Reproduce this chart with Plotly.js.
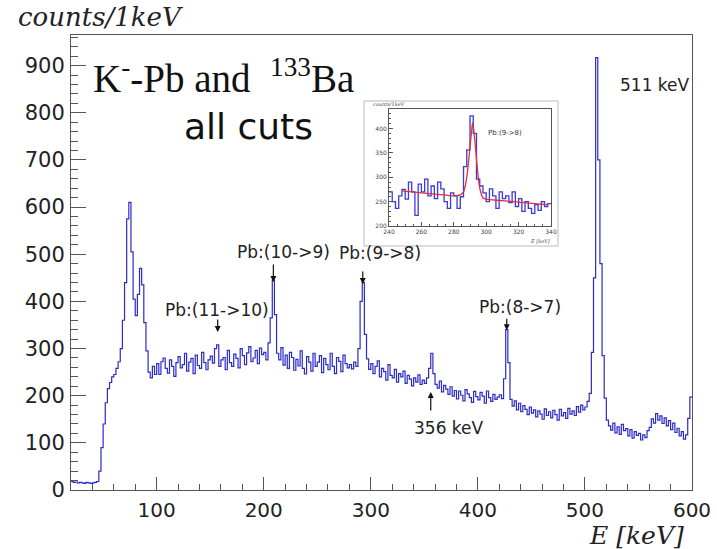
<!DOCTYPE html>
<html>
<head>
<meta charset="utf-8">
<script src="https://cdn.plot.ly/plotly-3.0.1.min.js"></script>
<style>html,body{margin:0;padding:0;background:#fff;}#chart{width:717px;height:549px;}</style>
</head>
<body>
<div id="chart"></div>
<script>
// ---- Main spectrum: 2 keV bins starting at 20 keV ----
const binStart = 20;
const binWidth = 2;
const counts = [
  18,16,17,15,16, 15,14,16,15,14, 15,16,18,40,90,
  140,185,215,228,240, 245,258,272,300,360, 440,575,610,505,405, 370,415,470,435,355, 295,250,238,262,245,
  268,245,272,280,258, 248,276,262,241,270, 283,259,266,290,252, 271,279,247,286,264, 258,292,270,255,276,
  284,269,300,308,262, 276,281,255,296,270, 262,288,279,259,300, 285,266,291,304,272, 280,296,268,301,287,
  292,276,312,365,445, 372,290,276,302,265, 286,258,292,281,254, 277,263,295,258,246, 283,271,252,290,262,
  271,285,249,279,266, 255,290,262,247,281, 273,251,286,268,259,
  266,257,271,262,300, 400,440,330,278,256,
  268,247,262,274,240, 258,251,233,266,243, 238,256,229,247,240, 252,226,243,235,221, 238,229,244,224,233,
  226,238,258,290,247, 224,216,231,208,222, 214,203,219,199,211, 193,210,201,189,213, 204,196,186,209,198,
  191,207,199,184,210, 196,188,203,192,197, 202,194,236,340,270, 192,178,189,170,184, 166,179,171,160,176,
  163,170,155,168,161, 150,172,158,166,153, 169,160,148,171,157, 164,152,173,161,168, 158,177,165,180,170,
  176,188,205,292,450, 917,700,480,285,195, 148,136,127,142,121, 134,118,139,126,130, 115,128,110,124,116,
  120,106,117,111,126, 133,151,142,162,148, 157,141,153,136,147, 128,142,122,131,115, 124,108,117,152,197
];

// ---- Inset: 2 keV bins from 240 keV, with fit curve ----
const insetStart = 240;
const insetWidth = 2;
const insetCounts = [
  270,250,236,262,275, 255,290,270,222,286,
  270,296,262,282,256, 290,276,250,236,268,
  262,236,260,322,356, 426,390,296,282,268,
  250,276,262,236,270, 256,262,248,270,240,
  256,230,250,236,226, 244,232,250,240,246
];
const fitX = [248,260,270,280,284,286,287,288,289,290,291,291.6,292,293,294,295,296,297,298,300,310,320,330,338];
const fitY = [272,268,265,262,264,270,281,300,328,362,395,412,405,375,338,303,278,265,258,255,252,249,246,244];

// ---- Tick labels ----
const xTicks = [100,200,300,400,500,600];
const yTicks = [0,100,200,300,400,500,600,700,800,900];
const insetXTicks = [240,260,280,300,320,340];
const insetYTicks = [200,250,300,350,400];

function stepXY(start, width, vals){
  const x=[], y=[];
  for(let i=0;i<vals.length;i++){ x.push(start+i*width); y.push(vals[i]); }
  x.push(start+vals.length*width); y.push(vals[vals.length-1]);
  return {x, y};
}
const mainXY = stepXY(binStart, binWidth, counts);
const insXY = stepXY(insetStart, insetWidth, insetCounts);

const blue = '#2b2bc8';
const traces = [
  {x: mainXY.x, y: mainXY.y, type:'scatter', mode:'lines', line:{shape:'hv', color:blue, width:1.2}, xaxis:'x', yaxis:'y', hoverinfo:'skip'},
  {x: insXY.x, y: insXY.y, type:'scatter', mode:'lines', line:{shape:'hv', color:'#3a3ae0', width:1.3}, xaxis:'x2', yaxis:'y2', hoverinfo:'skip'},
  {x: fitX, y: fitY, type:'scatter', mode:'lines', line:{shape:'spline', color:'#e0303a', width:1.3}, xaxis:'x2', yaxis:'y2', hoverinfo:'skip'}
];

const sans = 'DejaVu Sans, Arial, sans-serif';
const serif = 'DejaVu Serif, serif';
const axisCol = '#555';
const txtCol = '#222';

const L=71, R=692, T=35, B=490, W=717, H=549;
function px2paper(px,py){ return {x:(px-L)/(R-L), y:(B-py)/(B-T)}; }

// peak labels (data coords) and arrows
const labels = [
  {t:'Pb:(11->10)', x:156, y:381},
  {t:'Pb:(10->9)', x:218, y:504},
  {t:'Pb:(9->8)', x:309, y:502},
  {t:'Pb:(8->7)', x:439, y:388},
  {t:'356 keV', x:373, y:131},
  {t:'511 keV', x:565, y:860}
];
const arrows = [
  {x:157, y:335, ay:-14},
  {x:209, y:441, ay:-19},
  {x:292.5, y:437, ay:-14},
  {x:427, y:339, ay:-13},
  {x:356, y:208, ay:20}
];

const annotations = [];
function txt(x, y, ref, text, font){
  annotations.push({x, y, xref:ref==='paper'?'paper':'x', yref:ref==='paper'?'paper':'y', text, showarrow:false,
    xanchor:'center', yanchor:'middle', font});
}
labels.forEach(l => txt(l.x, l.y, 'data', l.t, {family:sans, size:17, color:txtCol}));
arrows.forEach(a => annotations.push({x:a.x, y:a.y, xref:'x', yref:'y', text:'', showarrow:true,
  ax:0, ay:a.ay, arrowhead:2, arrowsize:1, arrowwidth:1.2, arrowcolor:'#111', standoff:0}));

txt(162, 877, 'data', 'K<sup>-</sup>-Pb and  <sup>133</sup>Ba', {family:'Liberation Serif, Times New Roman, serif', size:39, color:'#111'});
txt(186, 771, 'data', 'all cuts', {family:sans, size:36, color:'#111'});
let p = px2paper(100, 17);
txt(p.x, p.y, 'paper', '<i>counts/1keV</i>', {family:serif, size:26, color:'#222'});
p = px2paper(636, 535);
txt(p.x, p.y, 'paper', '<i>E [keV]</i>', {family:serif, size:25, color:'#222'});
// inset texts
p = px2paper(505, 133);
txt(p.x, p.y, 'paper', 'Pb:(9->8)', {family:sans, size:7, color:'#333'});
p = px2paper(389, 104);
txt(p.x, p.y, 'paper', '<i>counts/1keV</i>', {family:serif, size:5, color:'#444'});
p = px2paper(540, 241);
txt(p.x, p.y, 'paper', '<i>E [keV]</i>', {family:serif, size:5, color:'#444'});

const ix0=(389-L)/(R-L), ix1=(551-L)/(R-L), iy0=(B-226)/(B-T), iy1=(B-109)/(B-T);
const f0 = px2paper(364,101), f1 = px2paper(558,246);

const layout = {
  width:W, height:H,
  margin:{l:L, r:W-R, t:T, b:H-B, pad:0},
  paper_bgcolor:'#fff', plot_bgcolor:'#fff',
  showlegend:false,
  xaxis:{range:[20,600], tickvals:xTicks, ticktext:xTicks.map(String), ticks:'inside', ticklen:13, tickwidth:1, tickcolor:axisCol,
    minor:{ticks:'inside', ticklen:6, tickcolor:axisCol, dtick:20, tick0:0},
    showline:true, mirror:true, linecolor:axisCol, linewidth:1, showgrid:false, zeroline:false,
    tickfont:{family:sans, size:20, color:txtCol}, ticklabelstandoff:2},
  yaxis:{range:[0,965], tickvals:yTicks, ticktext:yTicks.map(String), ticks:'inside', ticklen:15, tickwidth:1, tickcolor:axisCol,
    minor:{ticks:'inside', ticklen:7, tickcolor:axisCol, dtick:20, tick0:0},
    showline:true, mirror:true, linecolor:axisCol, linewidth:1, showgrid:false, zeroline:false,
    tickfont:{family:sans, size:21, color:txtCol}, ticklabelstandoff:1},
  xaxis2:{domain:[ix0,ix1], anchor:'y2', range:[240,340], tickvals:insetXTicks, ticktext:insetXTicks.map(String),
    ticks:'inside', ticklen:4, tickcolor:axisCol, minor:{ticks:'inside', ticklen:2, dtick:5, tickcolor:axisCol},
    showline:true, mirror:true, linecolor:axisCol, linewidth:1, showgrid:false, zeroline:false,
    tickfont:{family:sans, size:6, color:'#444'}, ticklabelstandoff:0},
  yaxis2:{domain:[iy0,iy1], anchor:'x2', range:[200,440], tickvals:insetYTicks, ticktext:insetYTicks.map(String),
    ticks:'inside', ticklen:4, tickcolor:axisCol, minor:{ticks:'inside', ticklen:2, dtick:10, tickcolor:axisCol},
    showline:true, mirror:true, linecolor:axisCol, linewidth:1, showgrid:false, zeroline:false,
    tickfont:{family:sans, size:6, color:'#444'}, ticklabelstandoff:0},
  shapes:[{type:'rect', xref:'paper', yref:'paper', x0:f0.x, x1:f1.x, y0:f1.y, y1:f0.y, line:{color:'#bbb', width:1}}],
  annotations: annotations
};

Plotly.newPlot('chart', traces, layout, {staticPlot:true, displayModeBar:false});
</script>
</body>
</html>
